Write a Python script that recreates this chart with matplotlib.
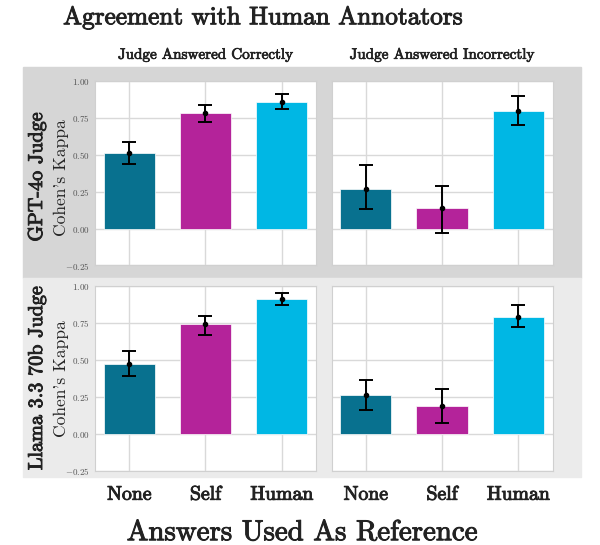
"""Agreement with human annotators: Cohen's kappa per judge and reference type."""
import matplotlib
matplotlib.use("Agg")
import matplotlib.pyplot as plt
import matplotlib.patheffects as pe
from matplotlib.patches import Rectangle
import numpy as np

categories = ["None", "Self", "Human"]
colors = ["#08718f", "#b4239a", "#00b7e4"]
row_labels = ["GPT-4o Judge", "Llama 3.3 70b Judge"]
col_titles = ["Judge Answered Correctly", "Judge Answered Incorrectly"]

# kappa means and CI bounds per panel
gpt_correct = [0.51, 0.78, 0.86]
gpt_correct_lo = [0.44, 0.72, 0.81]
gpt_correct_hi = [0.59, 0.84, 0.91]
gpt_incorrect = [0.27, 0.14, 0.80]
gpt_incorrect_lo = [0.13, -0.03, 0.70]
gpt_incorrect_hi = [0.43, 0.29, 0.90]
llama_correct = [0.47, 0.74, 0.91]
llama_correct_lo = [0.39, 0.67, 0.87]
llama_correct_hi = [0.56, 0.80, 0.95]
llama_incorrect = [0.26, 0.19, 0.79]
llama_incorrect_lo = [0.16, 0.07, 0.72]
llama_incorrect_hi = [0.36, 0.30, 0.87]

panels = [
    [(gpt_correct, gpt_correct_lo, gpt_correct_hi),
     (gpt_incorrect, gpt_incorrect_lo, gpt_incorrect_hi)],
    [(llama_correct, llama_correct_lo, llama_correct_hi),
     (llama_incorrect, llama_incorrect_lo, llama_incorrect_hi)],
]

plt.rcParams["mathtext.fontset"] = "cm"
plt.rcParams["axes.formatter.use_mathtext"] = True
plt.rcParams["font.family"] = "cmr10"

INK = "#222222"
# cmr10 with a thin stroke stands in for LaTeX bold extended
bold = [pe.withStroke(linewidth=0.7, foreground=INK)]

W, H = 600, 545
fig = plt.figure(figsize=(6, 5.45), dpi=100)

# row background boxes
row_bg = ["#d6d6d6", "#ebebeb"]
row_box = [(67, 278), (278, 477)]
for (t, b), c in zip(row_box, row_bg):
    fig.patches.append(Rectangle((23 / W, 1 - b / H), (581 - 23) / W, (b - t) / H,
                                 transform=fig.transFigure, color=c, zorder=-1))

ax_tops = [81, 286]
ax_h = 184.5
ax_lefts = [95, 331.5]
ax_w = 221
label_shift = [4, 0]
x = np.arange(len(categories))

for r in range(2):
    for c in range(2):
        ax = fig.add_axes([ax_lefts[c] / W, 1 - (ax_tops[r] + ax_h) / H, ax_w / W, ax_h / H])
        vals, lo, hi = panels[r][c]
        vals = np.array(vals)
        err = [vals - np.array(lo), np.array(hi) - vals]
        ax.bar(x, vals, width=0.67, color=colors, edgecolor="white", lw=0.5, zorder=2)
        ax.errorbar(x, vals, yerr=err, fmt="o", color="black", ms=3, lw=1.4,
                    capsize=5, capthick=1.4, zorder=3)
        ax.set_xlim(-0.45, 2.45)
        ax.set_ylim(-0.25, 1.0)
        ax.set_yticks([-0.25, 0.0, 0.25, 0.5, 0.75, 1.0])
        ax.set_xticks(x)
        ax.grid(True, color="#d9d9d9", lw=1.0, zorder=0)
        ax.set_axisbelow(True)
        for s in ax.spines.values():
            s.set_color("#d0d0d0")
        ax.tick_params(length=0, labelsize=6.5, labelcolor="#555555", pad=4)
        if c == 1:
            ax.set_yticklabels([])
        else:
            ax.yaxis.set_major_formatter(matplotlib.ticker.FuncFormatter(
                lambda v, p: "$%.2f$" % v if v >= 0 else "$-%.2f$" % abs(v)))
        if r == 1:
            labels = ax.set_xticklabels(categories, fontsize=14.2, color=INK)
            for lab in labels:
                lab.set_path_effects(bold)
            ax.tick_params(axis="x", pad=11)
        else:
            ax.set_xticklabels([])
        if r == 0:
            ax.set_title(col_titles[c], fontsize=10.9, color=INK, pad=16,
                         path_effects=[pe.withStroke(linewidth=0.5, foreground=INK)])

    yc = 1 - (ax_tops[r] + ax_h / 2 + label_shift[r]) / H
    fig.text(37 / W, yc, row_labels[r], rotation=90, ha="center", va="center",
             fontsize=14.5, color=INK, path_effects=bold)
    fig.text(61 / W, yc, "Cohen's Kappa", rotation=90, ha="center", va="center",
             fontsize=12.6, color=INK)

fig.text(0.438, 1 - 18 / H, "Agreement with Human Annotators", ha="center", va="center",
         fontsize=18.2, color=INK, path_effects=bold)
fig.text(0.503, 1 - 533 / H, "Answers Used As Reference", ha="center", va="center",
         fontsize=20.8, color=INK, path_effects=bold)

fig.savefig("out.png", dpi=100)
